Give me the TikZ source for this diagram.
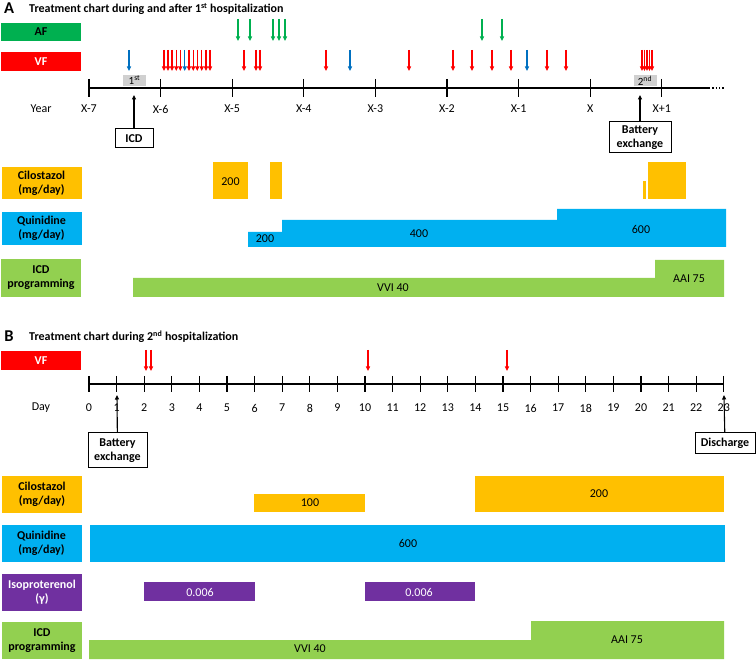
\documentclass[tikz,border=0pt]{standalone}
\usepackage{fontspec}
\setmainfont{Carlito}
\usetikzlibrary{arrows.meta}

\definecolor{afgreen}{HTML}{00B050}
\definecolor{vfred}{HTML}{FF0000}
\definecolor{evblue}{HTML}{0070C0}
\definecolor{cilo}{HTML}{FFC000}
\definecolor{quin}{HTML}{00B0F0}
\definecolor{icdg}{HTML}{92D050}
\definecolor{isop}{HTML}{7030A0}
\definecolor{hosp}{HTML}{D0D0D0}

\begin{document}
\begin{tikzpicture}[x=1pt, y=-1pt,
  every node/.style={font=\fontsize{12}{13.5}\selectfont, inner sep=0pt},
  lab/.style={minimum width=80pt, align=center, font=\fontsize{12}{14}\selectfont\bfseries},
  panel/.style={anchor=west, font=\fontsize{12}{13.5}\selectfont\bfseries},
  evt/.style={line width=1.1pt, -{Triangle[length=4.5pt,width=4pt]}},
  axis/.style={line width=1.3pt},
  eventbox/.style={draw, line width=1pt, align=center, font=\fontsize{12}{14}\selectfont\bfseries},
  pin/.style={line width=1.1pt, -{Triangle[length=4.5pt,width=4pt]}},
  hbox/.style={fill=hosp, minimum width=23pt, minimum height=11pt, font=\fontsize{11}{12}\selectfont}]
  \useasboundingbox (0,0) rectangle (756,660);

  % panel A
  \node[font=\fontsize{16.5}{18}\selectfont\bfseries] (pA) at (9,8.5) {A};
  \node[panel] (tA) at (29,9) {Treatment chart during and after 1\textsuperscript{st} hospitalization};

  \node[lab, fill=afgreen, minimum height=18pt] (af) at (41,32) {AF};
  \node[lab, fill=vfred, text=white, minimum height=19pt] (vfA) at (41,61.5) {VF};
  \node[lab, fill=cilo, minimum height=32pt] (cilA) at (41.5,183) {Cilostazol\\(mg/day)};
  \node[lab, fill=quin, minimum height=33pt] (quiA) at (41.5,228.5) {Quinidine\\(mg/day)};
  \node[lab, fill=icdg, minimum height=38pt] (icdA) at (41,278) {ICD\\programming};

  % events
  \foreach \x in {238,250,273,279,285,482,502}
    \draw[evt, afgreen] (\x,19) -- (\x,41);
  \foreach \x in {164,168,172,176.3,180.3,189,193.3,197.3,201.7,206,210,244,256,260,326,409,453,472,492,511,547,566,642,644.5,647,649.5,652}
    \draw[evt, vfred] (\x,50) -- (\x,71);
  \foreach \x in {129,184.7,350,527}
    \draw[evt, evblue] (\x,50) -- (\x,71);

  % year axis
  \node[hbox] (h1) at (134.5,80.5) {1\textsuperscript{st}};
  \node[hbox] (h2) at (645,80.5) {2\textsuperscript{nd}};
  \draw[axis] (89,88) -- (709,88);
  \draw[axis, dotted] (709,88) -- (725,88);
  \node (yr) at (41,109) {Year};
  \foreach \lbl [count=\i from 0] in {X-7,X-6,X-5,X-4,X-3,X-2,X-1,X,X+1} {
    \draw[axis] (89+71.6*\i,79) -- (89+71.6*\i,97);
    \node (yA\i) at (89+71.6*\i,109) {\lbl};
  }

  \coordinate (icdAt) at (134,95);
  \coordinate (batAt) at (640,95);
  \node[eventbox, minimum width=38pt, minimum height=19pt] (icd) at (134,138.5) {ICD};
  \node[eventbox, minimum width=62pt, minimum height=31pt] (batA) at (640,137.5) {Battery\\exchange};
  \draw[pin] (icd) -- (icdAt);
  \draw[pin] (batA) -- (batAt);

  % drug bars A
  \fill[cilo] (213,162) rectangle (248,199);
  \fill[cilo] (270,162) rectangle (282,199);
  \fill[cilo] (643,181) rectangle (646,199);
  \fill[cilo] (648,162) rectangle (686,199);
  \node (c200) at (230.5,182) {200};

  \fill[quin] (248,232) -- (282,232) -- (282,220) -- (557,220) -- (557,209)
    -- (726,209) -- (726,247) -- (248,247) -- cycle;
  \node (q200) at (265,239) {200};
  \node (q400) at (419,234) {400};
  \node (q600) at (641,229) {600};

  \fill[icdg] (133,278) -- (655,278) -- (655,260) -- (724,260) -- (724,297)
    -- (133,297) -- cycle;
  \node (vviA) at (393,288) {VVI 40};
  \node (aaiA) at (689,279) {AAI 75};

  % panel B
  \node[font=\fontsize{16.5}{18}\selectfont\bfseries] (pB) at (9,336.5) {B};
  \node[panel] (tB) at (29,337) {Treatment chart during 2\textsuperscript{nd} hospitalization};

  \node[lab, fill=vfred, text=white, minimum height=19pt] (vfB) at (41,360.5) {VF};
  \node[lab, fill=cilo, minimum height=37pt] (cilB) at (42,494.5) {Cilostazol\\(mg/day)};
  \node[lab, fill=quin, minimum height=37pt] (quiB) at (41.5,543.5) {Quinidine\\(mg/day)};
  \node[lab, fill=isop, text=white, minimum height=37pt] (iso) at (42,592.5) {Isoproterenol\\(γ)};
  \node[lab, fill=icdg, minimum height=37pt] (icdB) at (42,640.5) {ICD\\programming};

  \foreach \x in {146,151,368,507}
    \draw[evt, vfred] (\x,350) -- (\x,371);

  % day axis
  \draw[axis] (89,384) -- (724,384);
  \node (dy) at (41,408) {Day};
  \foreach \i in {0,...,23} {
    \draw[axis] (89+27.6*\i,376) -- (89+27.6*\i,392);
    \node (d\i) at (89+27.6*\i,408) {\i};
  }

  \coordinate (batBt) at (117,395);
  \coordinate (disBt) at (724,395);
  \node[eventbox, minimum width=59pt, minimum height=35pt] (batB) at (117.5,450.5) {Battery\\exchange};
  \node[eventbox, minimum width=60pt, minimum height=21pt] (dis) at (725,443.5) {Discharge};
  \draw[pin] (batB) -- (batBt);
  \draw[pin] (dis) -- (disBt);

  % drug bars B
  \fill[cilo] (254,494) rectangle (365,512);
  \node (c100) at (310,503) {100};
  \fill[cilo] (475,476) rectangle (724,512);
  \node (cB200) at (599,494) {200};

  \fill[quin] (90,525) rectangle (725,562);
  \node (qB600) at (408,543) {600};

  \fill[isop] (144,582) rectangle (255,601);
  \node[text=white] (i1) at (200,592) {0.006};
  \fill[isop] (365,582) rectangle (475,601);
  \node[text=white] (i2) at (419,592) {0.006};

  \fill[icdg] (89,640) -- (531,640) -- (531,621) -- (724,621) -- (724,659)
    -- (89,659) -- cycle;
  \node (vviB) at (310,649) {VVI 40};
  \node (aaiB) at (627,640) {AAI 75};
\end{tikzpicture}
\end{document}
